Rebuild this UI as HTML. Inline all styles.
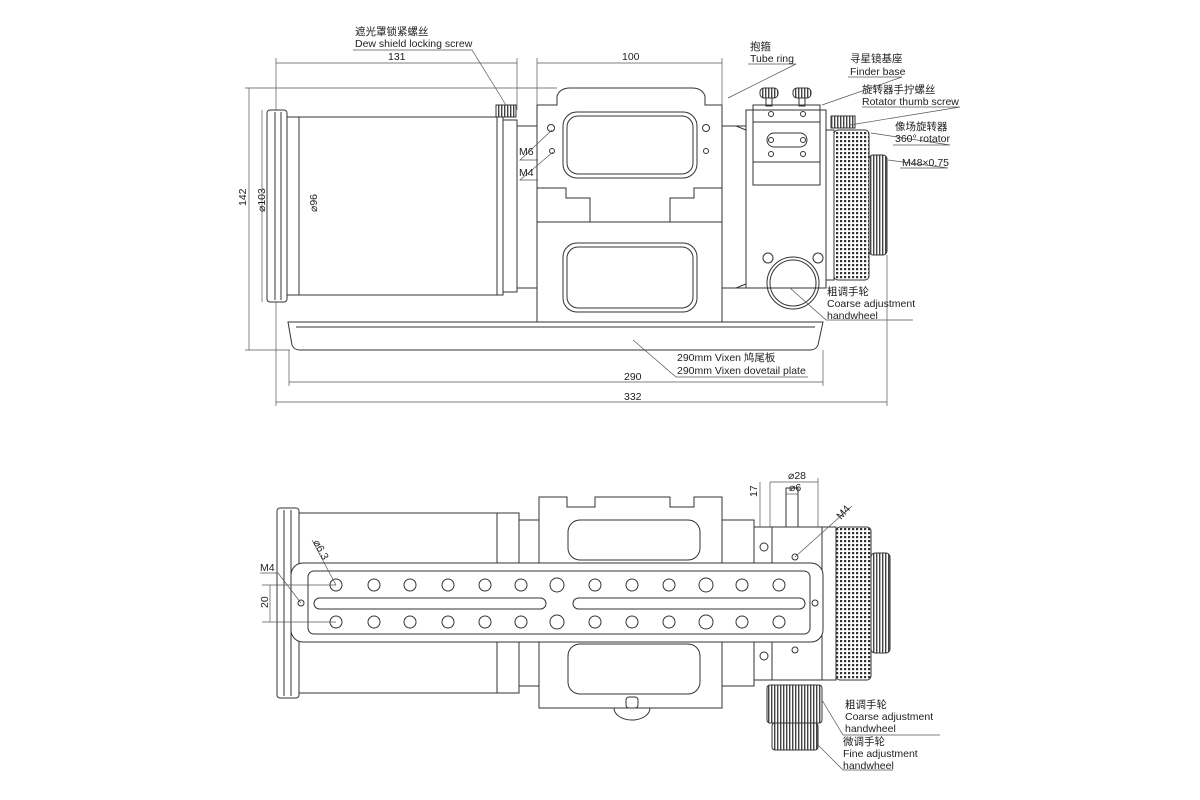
<!DOCTYPE html>
<html><head><meta charset="utf-8"><style>
html,body{margin:0;padding:0;background:#fff}
svg{display:block}
text{font-family:"Liberation Sans","Noto Sans CJK SC",sans-serif;font-size:10.5px;fill:#222}
</style></head><body>
<svg width="1200" height="800" viewBox="0 0 1200 800" xmlns="http://www.w3.org/2000/svg">
<defs>
<pattern id="kn" width="4" height="4" patternUnits="userSpaceOnUse"><rect width="4" height="4" fill="#fff"/><rect width="2.2" height="2.2" fill="#333"/></pattern>
<pattern id="kv" width="3" height="10" patternUnits="userSpaceOnUse"><rect width="3" height="10" fill="#fff"/><rect width="1.4" height="10" fill="#444"/></pattern>
</defs>
<g fill="none" stroke="#333" stroke-width="1">
<!-- ===== TOP VIEW ===== -->
<!-- dew shield -->
<rect x="267" y="110" width="20" height="192" rx="3"/>
<line x1="275" y1="112" x2="275" y2="300"/><line x1="281" y1="112" x2="281" y2="300"/>
<rect x="287" y="117" width="216" height="178"/>
<line x1="299" y1="117" x2="299" y2="295"/>
<line x1="497" y1="117" x2="497" y2="295"/>
<rect x="503" y="120" width="14" height="172"/>
<rect x="517" y="126" width="20" height="162"/>
<rect x="496" y="105" width="20" height="12" fill="url(#kv)"/>
<!-- tube ring -->
<path d="M537 105 H557 V96 Q560 88 570 88 H692 Q702 88 705 96 V105 H722 V322 H537 Z"/>
<rect x="563" y="112" width="134" height="66" rx="14"/>
<rect x="567" y="116" width="126" height="58" rx="11"/>
<path d="M537 188 H566 V198 H590 V222 H670 V198 H694 V188 H722"/>
<line x1="537" y1="222" x2="722" y2="222"/>
<rect x="563" y="243" width="134" height="69" rx="14"/>
<rect x="567" y="247" width="126" height="61" rx="11"/>
<circle cx="551" cy="128" r="3.5"/><circle cx="552" cy="151" r="2.5"/>
<circle cx="706" cy="128" r="3.5"/><circle cx="706" cy="151" r="2.5"/>
<!-- rear tube -->
<rect x="722" y="126" width="24" height="162"/>
<path d="M736 126 L746 130 M736 288 L746 284"/>
<!-- focuser -->
<rect x="746" y="110" width="80" height="178"/>
<rect x="753" y="105" width="67" height="80"/>
<line x1="753" y1="122" x2="820" y2="122"/><line x1="753" y1="162" x2="820" y2="162"/>
<rect x="767" y="133" width="40" height="14" rx="7"/>
<circle cx="771" cy="140" r="2.5"/><circle cx="803" cy="140" r="2.5"/>
<circle cx="771" cy="114" r="2.5"/><circle cx="803" cy="114" r="2.5"/>
<circle cx="771" cy="154" r="2.5"/><circle cx="803" cy="154" r="2.5"/>
<rect x="760" y="88" width="18" height="10" rx="4" fill="url(#kv)"/>
<rect x="793" y="88" width="18" height="10" rx="4" fill="url(#kv)"/>
<rect x="766" y="98" width="6" height="8"/><rect x="799" y="98" width="6" height="8"/>
<rect x="831" y="116" width="24" height="12" fill="url(#kv)"/>
<rect x="826" y="130" width="8" height="150"/>
<rect x="834" y="130" width="35" height="150" rx="4" fill="url(#kn)"/>
<rect x="869" y="155" width="18" height="100" rx="4" fill="url(#kv)"/>
<circle cx="793" cy="283" r="26"/>
<circle cx="793" cy="283" r="23"/>
<circle cx="768" cy="258" r="5"/><circle cx="818" cy="258" r="5"/>
<!-- plate -->
<path d="M288 322 H823 L818 345 Q816 350 810 350 H300 Q294 350 292 345 Z"/>
<line x1="296" y1="327" x2="815" y2="327"/>
<!-- dims top -->
<g stroke-width="0.7" stroke="#555">
<line x1="276" y1="63" x2="517" y2="63"/><line x1="276" y1="58" x2="276" y2="110"/><line x1="517" y1="58" x2="517" y2="110"/>
<line x1="537" y1="63" x2="722" y2="63"/><line x1="537" y1="58" x2="537" y2="105"/><line x1="722" y1="58" x2="722" y2="105"/>
<line x1="249" y1="88" x2="249" y2="350"/><line x1="245" y1="88" x2="557" y2="88"/><line x1="245" y1="350" x2="290" y2="350"/>
<line x1="262" y1="110" x2="262" y2="302"/>
<line x1="289" y1="382" x2="823" y2="382"/><line x1="289" y1="350" x2="289" y2="386"/><line x1="823" y1="350" x2="823" y2="386"/>
<line x1="276" y1="402" x2="887" y2="402"/><line x1="276" y1="302" x2="276" y2="406"/><line x1="887" y1="255" x2="887" y2="406"/>
<!-- leaders -->
<polyline points="353,50 472,50 506,105"/>
<polyline points="748,64 796,64 728,98"/>
<polyline points="848,77 902,77 822,105"/>
<polyline points="862,107 960,107 850,125"/>
<polyline points="893,145 950,145 871,133"/>
<polyline points="900,168 948,168 888,160"/>
<polyline points="538,160 520,160 552,130"/>
<polyline points="538,180 520,180 553,152"/>
<polyline points="913,320 826,320 790,288"/>
<polyline points="808,377 676,377 633,340"/>
</g>
<!-- ===== BOTTOM VIEW ===== -->
<rect x="277" y="508" width="22" height="190" rx="3"/>
<line x1="284" y1="510" x2="284" y2="696"/><line x1="291" y1="510" x2="291" y2="696"/>
<rect x="299" y="513" width="220" height="180"/>
<rect x="497" y="513" width="22" height="180"/>
<rect x="519" y="520" width="20" height="166"/>
<path d="M539 497 H567 V507 H595 V497 H670 V507 H694 V497 H722 V708 H539 Z"/>
<rect x="568" y="520" width="132" height="40" rx="12"/>
<rect x="568" y="644" width="132" height="50" rx="12"/>
<path d="M614 708 A18 12 0 0 0 650 708"/>
<rect x="626" y="697" width="12" height="11" rx="3"/>
<rect x="722" y="520" width="32" height="166"/>
<rect x="754" y="527" width="68" height="153"/>
<line x1="772" y1="527" x2="772" y2="680"/>
<rect x="786" y="488" width="12" height="39"/>
<circle cx="764" cy="547" r="4"/><circle cx="795" cy="557" r="3"/>
<circle cx="764" cy="656" r="4"/><circle cx="795" cy="650" r="3"/>
<rect x="822" y="527" width="14" height="153"/>
<rect x="836" y="527" width="35" height="153" rx="4" fill="url(#kn)"/>
<rect x="871" y="553" width="19" height="100" rx="4" fill="url(#kv)"/>
<rect x="767" y="685" width="55" height="38" rx="3" fill="url(#kv)"/>
<rect x="772" y="723" width="46" height="27" rx="3" fill="url(#kv)"/>
<!-- plate -->
<rect x="291" y="563" width="532" height="79" rx="12" fill="#fff"/>
<rect x="308" y="571" width="502" height="63" rx="6"/>
<rect x="314" y="598" width="232" height="11" rx="5.5"/>
<rect x="573" y="598" width="232" height="11" rx="5.5"/>
<circle cx="301" cy="603" r="3"/><circle cx="815" cy="603" r="3"/>
<g>
<circle cx="336" cy="585" r="6"/><circle cx="374" cy="585" r="6"/><circle cx="410" cy="585" r="6"/><circle cx="448" cy="585" r="6"/><circle cx="485" cy="585" r="6"/><circle cx="521" cy="585" r="6"/><circle cx="557" cy="585" r="7"/><circle cx="595" cy="585" r="6"/><circle cx="632" cy="585" r="6"/><circle cx="669" cy="585" r="6"/><circle cx="706" cy="585" r="7"/><circle cx="742" cy="585" r="6"/><circle cx="779" cy="585" r="6"/>
<circle cx="336" cy="622" r="6"/><circle cx="374" cy="622" r="6"/><circle cx="410" cy="622" r="6"/><circle cx="448" cy="622" r="6"/><circle cx="485" cy="622" r="6"/><circle cx="521" cy="622" r="6"/><circle cx="557" cy="622" r="7"/><circle cx="595" cy="622" r="6"/><circle cx="632" cy="622" r="6"/><circle cx="669" cy="622" r="6"/><circle cx="706" cy="622" r="7"/><circle cx="742" cy="622" r="6"/><circle cx="779" cy="622" r="6"/>
</g>
<g stroke-width="0.7" stroke="#555">
<line x1="262" y1="585" x2="336" y2="585"/><line x1="262" y1="622" x2="336" y2="622"/><line x1="270" y1="585" x2="270" y2="622"/>
<polyline points="260,573 278,573 301,603"/>
<line x1="312" y1="540" x2="336" y2="585"/>
<line x1="770" y1="482" x2="818" y2="482"/><line x1="770" y1="482" x2="770" y2="527"/><line x1="818" y1="478" x2="818" y2="527"/>
<line x1="786" y1="494" x2="798" y2="494"/>
<line x1="760" y1="482" x2="760" y2="527"/>
<line x1="795" y1="557" x2="852" y2="506"/>
<polyline points="940,735 843,735 822,700"/>
<polyline points="893,770 843,770 818,745"/>
</g>
</g>
<!-- text -->
<text x="355" y="35">遮光罩锁紧螺丝</text><text x="355" y="47">Dew shield locking screw</text>
<text x="388" y="60">131</text><text x="622" y="60">100</text>
<text x="750" y="50">抱箍</text><text x="750" y="62">Tube ring</text>
<text x="850" y="62">寻星镜基座</text><text x="850" y="75">Finder base</text>
<text x="862" y="93">旋转器手拧螺丝</text><text x="862" y="105">Rotator thumb screw</text>
<text x="895" y="130">像场旋转器</text><text x="895" y="142">360° rotator</text>
<text x="902" y="166">M48×0.75</text>
<text x="519" y="155">M6</text><text x="519" y="176">M4</text>
<text x="827" y="295">粗调手轮</text><text x="827" y="307">Coarse adjustment</text><text x="827" y="319">handwheel</text>
<text x="677" y="361">290mm Vixen 鸠尾板</text><text x="677" y="374">290mm Vixen dovetail plate</text>
<text x="624" y="380">290</text><text x="624" y="400">332</text>
<text transform="translate(246,206) rotate(-90)">142</text>
<text transform="translate(265,212) rotate(-90)">⌀103</text>
<text transform="translate(317,212) rotate(-90)">⌀96</text>
<text x="788" y="479">⌀28</text><text x="789" y="491">⌀6</text>
<text transform="translate(757,497) rotate(-90)">17</text>
<text transform="translate(841,520) rotate(-48)">M4</text>
<text transform="translate(313,542) rotate(62)">⌀6.3</text>
<text x="260" y="571">M4</text>
<text transform="translate(268,608) rotate(-90)">20</text>
<text x="845" y="708">粗调手轮</text><text x="845" y="720">Coarse adjustment</text><text x="845" y="732">handwheel</text>
<text x="843" y="745">微调手轮</text><text x="843" y="757">Fine adjustment</text><text x="843" y="769">handwheel</text>
</svg>
</body></html>
